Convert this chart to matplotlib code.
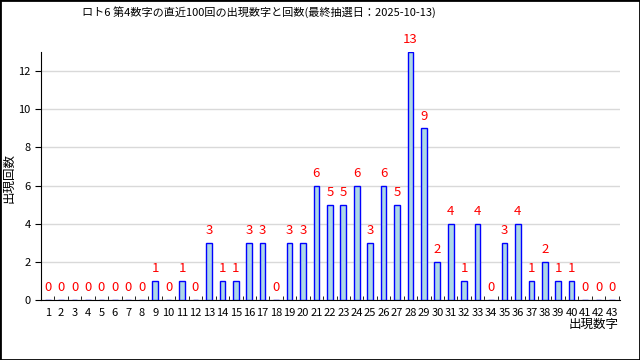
import matplotlib
matplotlib.use('Agg')
import matplotlib.pyplot as plt
from matplotlib.patches import Rectangle

plt.rcParams['font.family'] = ['Noto Sans CJK JP', 'DejaVu Sans']

numbers = list(range(1, 44))
counts = [0, 0, 0, 0, 0, 0, 0, 0, 1, 0,
          1, 0, 3, 1, 1, 3, 3, 0, 3, 3,
          6, 5, 5, 6, 3, 6, 5, 13, 9, 2,
          4, 1, 4, 0, 3, 4, 1, 2, 1, 1,
          0, 0, 0]

title = 'ロト6 第4数字の直近100回の出現数字と回数(最終抽選日：2025-10-13)'

fig = plt.figure(figsize=(6.4, 3.6), dpi=100)
ax = fig.add_axes([41/640, 60/360, 579/640, 248/360])

ax.bar(numbers, counts, width=0.42, color='#add8e6', edgecolor='blue', linewidth=1, zorder=3)
for n, c in zip(numbers, counts):
    ax.text(n, c + 0.3, str(c), color='red', ha='center', va='bottom', fontsize=9.5)

ax.set_xlim(0.5, 43.6)
ax.set_ylim(0, 13)
ax.set_yticks(range(0, 13, 2))
ax.yaxis.grid(True, color='#d9d9d9', linewidth=1, zorder=0)
ax.set_xticks(numbers)
ax.set_xticklabels([str(n) for n in numbers], fontsize=8)
ax.set_xticks([n + 0.5 for n in numbers], minor=True)
ax.tick_params(axis='x', which='major', length=0, pad=6)
ax.tick_params(axis='x', which='minor', direction='in', length=3)
ax.tick_params(axis='y', labelsize=8, length=4)
ax.spines['top'].set_visible(False)
ax.spines['right'].set_visible(False)

fig.text(259/640, 1 - 12/360, title, ha='center', va='center', fontsize=8)
fig.text(9/640, 1 - 178/360, '出現回数', rotation=90, ha='center', va='center', fontsize=9)
fig.text(619/640, 1 - 324/360, '出現数字', ha='right', va='center', fontsize=9)

fig.patches.append(Rectangle((0, 0), 1, 1, transform=fig.transFigure, fill=False,
                             edgecolor='black', linewidth=2))

fig.savefig('out.png', dpi=100)
